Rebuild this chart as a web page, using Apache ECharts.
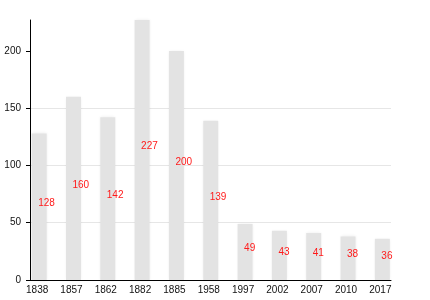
<!DOCTYPE html>
<html>
<head>
<meta charset="utf-8">
<script src="https://cdn.jsdelivr.net/npm/echarts@6/dist/echarts.min.js"></script>
<style>
  html, body { margin: 0; padding: 0; background: #fff; }
  #chart { width: 430px; height: 300px; }
</style>
</head>
<body>
<div id="chart"></div>
<script>
// 年份与数值
var years = ['1838', '1857', '1862', '1882', '1885', '1958', '1997', '2002', '2007', '2010', '2017'];
var values = [128, 160, 142, 227, 200, 139, 49, 43, 41, 38, 36];
var yTicks = [0, 50, 100, 150, 200];
var yMax = 227;
var yStep = 50;

var chart = echarts.init(document.getElementById('chart'), null, { renderer: 'canvas' });

var fontFamily = '"Liberation Sans", Arial, sans-serif';

var options = {
    animation: false,
    grid: [
        // 坐标轴线所在网格
        { left: 30, right: 39, top: 20, bottom: 20 },
        // 柱子所在网格
        { left: 22, right: 30.5, top: 20, bottom: 20 }
    ],
    xAxis: [
        {
            gridIndex: 0,
            type: 'value',
            min: 0,
            max: 1,
            axisLine: { show: true, lineStyle: { color: '#000', width: 1 } },
            axisTick: { show: false },
            axisLabel: { show: false },
            splitLine: { show: false }
        },
        {
            gridIndex: 1,
            type: 'category',
            data: years,
            axisLine: { show: false },
            axisTick: { show: false },
            axisLabel: {
                margin: 5,
                padding: [0, 4, 0, 0],
                fontFamily: fontFamily,
                fontSize: 10,
                color: '#111'
            },
            splitLine: { show: false }
        }
    ],
    yAxis: [
        {
            gridIndex: 0,
            type: 'value',
            min: 0,
            max: yMax,
            interval: yStep,
            axisLine: { show: true, lineStyle: { color: '#000', width: 1 } },
            axisTick: {
                show: true,
                inside: false,
                length: 4,
                customValues: yTicks,
                lineStyle: { color: '#000' }
            },
            axisLabel: {
                margin: 9,
                customValues: yTicks,
                fontFamily: fontFamily,
                fontSize: 10,
                color: '#111'
            },
            splitLine: {
                show: true,
                showMinLine: false,
                showMaxLine: false,
                lineStyle: { color: '#e6e6e6', width: 1 }
            }
        },
        {
            gridIndex: 1,
            type: 'value',
            min: 0,
            max: yMax,
            show: false
        }
    ],
    series: [
        {
            type: 'bar',
            xAxisIndex: 1,
            yAxisIndex: 1,
            data: values,
            barWidth: 15,
            itemStyle: {
                color: '#e3e3e3',
                shadowBlur: 3,
                shadowColor: 'rgba(0,0,0,0.08)'
            },
            label: {
                show: true,
                position: 'inside',
                align: 'left',
                offset: [-1, -3.5],
                color: '#ff1a1a',
                fontFamily: fontFamily,
                fontSize: 10
            }
        }
    ]
};

chart.setOption(options);
</script>
</body>
</html>
